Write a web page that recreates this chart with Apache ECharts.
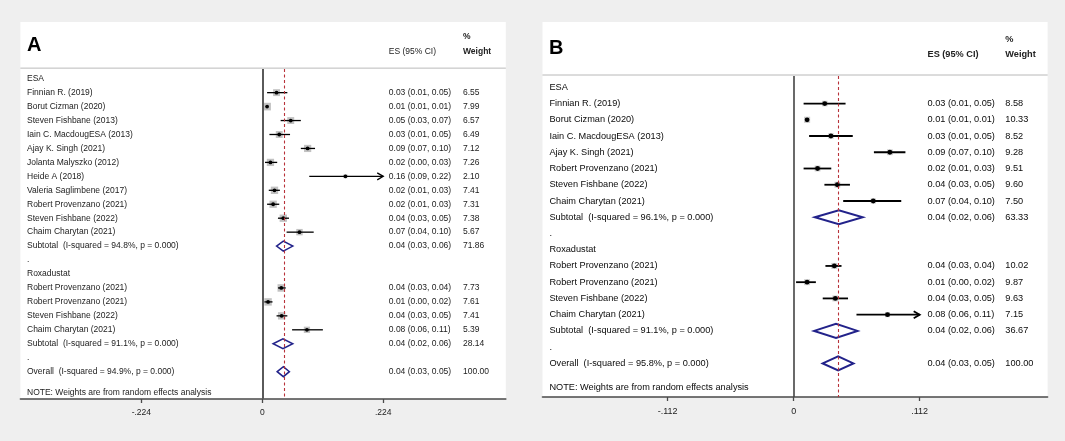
<!DOCTYPE html>
<html><head><meta charset="utf-8">
<script src="https://cdn.jsdelivr.net/npm/echarts@6/dist/echarts.min.js"></script>
<style>html,body{margin:0;padding:0;background:#efefef;}#c{width:1065px;height:441px;}</style>
</head><body><div id="c"></div>
<script>
// ---------------- Panel A ----------------
const labelsA = ['ESA','Finnian R. (2019)','Borut Cizman (2020)','Steven Fishbane (2013)','Iain C. MacdougESA (2013)','Ajay K. Singh (2021)','Jolanta Malyszko (2012)','Heide A (2018)','Valeria Saglimbene (2017)','Robert Provenzano (2021)','Steven Fishbane (2022)','Chaim Charytan (2021)','Subtotal  (I-squared = 94.8%, p = 0.000)','.','Roxadustat','Robert Provenzano (2021)','Robert Provenzano (2021)','Steven Fishbane (2022)','Chaim Charytan (2021)','Subtotal  (I-squared = 91.1%, p = 0.000)','.','Overall  (I-squared = 94.9%, p = 0.000)'];
const rowTypeA = ['head','study','study','study','study','study','study','study','study','study','study','study','sub','blank','head','study','study','study','study','sub','blank','sub'];
const esA = [null,0.0264,0.0089,0.0527,0.0314,0.0840,0.0151,0.154,0.0226,0.0201,0.0389,0.0689,0.0389,null,null,0.0352,0.0107,0.0358,0.0827,0.0383,null,0.039];
const loA = [null,0.0089,0.0085,0.034,0.0132,0.0714,0.005,0.087,0.012,0.0089,0.029,0.045,0.0264,null,null,0.029,0.0039,0.0264,0.0552,0.0201,null,0.0276];
const hiA = [null,0.0464,0.0095,0.0714,0.0514,0.0977,0.0276,0.2245,0.0326,0.0314,0.0495,0.0952,0.0565,null,null,0.0434,0.0189,0.0464,0.1122,0.0565,null,0.0502];
const weightA = [null,6.55,7.99,6.57,6.49,7.12,7.26,2.10,7.41,7.31,7.38,5.67,71.86,null,null,7.73,7.61,7.41,5.39,28.14,null,100.00];
const esTextA = ['','0.03 (0.01, 0.05)','0.01 (0.01, 0.01)','0.05 (0.03, 0.07)','0.03 (0.01, 0.05)','0.09 (0.07, 0.10)','0.02 (0.00, 0.03)','0.16 (0.09, 0.22)','0.02 (0.01, 0.03)','0.02 (0.01, 0.03)','0.04 (0.03, 0.05)','0.07 (0.04, 0.10)','0.04 (0.03, 0.06)','','','0.04 (0.03, 0.04)','0.01 (0.00, 0.02)','0.04 (0.03, 0.05)','0.08 (0.06, 0.11)','0.04 (0.02, 0.06)','','0.04 (0.03, 0.05)'];
const ticksA = [-0.224, 0, 0.224];
const tickLabelsA = ['-.224', '0', '.224'];

// ---------------- Panel B ----------------
const labelsB = ['ESA','Finnian R. (2019)','Borut Cizman (2020)','Iain C. MacdougESA (2013)','Ajay K. Singh (2021)','Robert Provenzano (2021)','Steven Fishbane (2022)','Chaim Charytan (2021)','Subtotal  (I-squared = 96.1%, p = 0.000)','.','Roxadustat','Robert Provenzano (2021)','Robert Provenzano (2021)','Steven Fishbane (2022)','Chaim Charytan (2021)','Subtotal  (I-squared = 91.1%, p = 0.000)','.','Overall  (I-squared = 95.8%, p = 0.000)'];
const rowTypeB = ['head','study','study','study','study','study','study','study','sub','blank','head','study','study','study','study','sub','blank','sub'];
const esB = [null,0.0276,0.0119,0.0331,0.0855,0.0212,0.0388,0.0707,0.0401,null,null,0.0361,0.0119,0.037,0.0834,0.0376,null,0.0395];
const loB = [null,0.0088,0.0115,0.0137,0.0713,0.0088,0.0273,0.044,0.0188,null,null,0.0282,0.0021,0.0258,0.0558,0.0182,null,0.0258];
const hiB = [null,0.0461,0.0123,0.0525,0.0993,0.0334,0.050,0.0956,0.0613,null,null,0.0425,0.0197,0.0483,0.1135,0.0567,null,0.0531];
const weightB = [null,8.58,10.33,8.52,9.28,9.51,9.60,7.50,63.33,null,null,10.02,9.87,9.63,7.15,36.67,null,100.00];
const esTextB = ['','0.03 (0.01, 0.05)','0.01 (0.01, 0.01)','0.03 (0.01, 0.05)','0.09 (0.07, 0.10)','0.02 (0.01, 0.03)','0.04 (0.03, 0.05)','0.07 (0.04, 0.10)','0.04 (0.02, 0.06)','','','0.04 (0.03, 0.04)','0.01 (0.00, 0.02)','0.04 (0.03, 0.05)','0.08 (0.06, 0.11)','0.04 (0.02, 0.06)','','0.04 (0.03, 0.05)'];
const ticksB = [-0.112, 0, 0.112];
const tickLabelsB = ['-.112', '0', '.112'];

const noteText = 'NOTE: Weights are from random effects analysis';
const FONT = '"Liberation Sans", Arial, sans-serif';

const panels = [
  { labels: labelsA, types: rowTypeA, es: esA, lo: loA, hi: hiA, w: weightA, esText: esTextA, ticks: ticksA, tickLabels: tickLabelsA,
    grid: { left: 20.4, right: 559.2, top: 69, bottom: 42 }, xmin: -0.448, xmax: 0.451, ymin: -0.695, ymax: 22.96,
    fs: 8.5, color: '#222', labelOff: 6.6, esOff: 368.4, wOff: 442.6, tickMargin: 9.5,
    sq: 2.7, sqColor: '#c2c2c2', dotR: 1.9, ciW: 1.3, diaH: 10, diaW: 1.5, zeroW: 2, zeroC: '#5a5a5a', axisFs: 8.5 },
  { labels: labelsB, types: rowTypeB, es: esB, lo: loB, hi: hiB, w: weightB, esText: esTextB, ticks: ticksB, tickLabels: tickLabelsB,
    grid: { left: 542.5, right: 17.4, top: 76, bottom: 44 }, xmin: -0.2233, xmax: 0.2257, ymin: -0.696, ymax: 19.07,
    fs: 9.2, color: '#0a0a0a', labelOff: 6.9, esOff: 385, wOff: 462.8, tickMargin: 10.5,
    sq: 1.9, sqColor: '#cccccc', dotR: 2.4, ciW: 1.8, diaH: 14, diaW: 2, zeroW: 1.6, zeroC: '#444', axisFs: 9 }
];

const grids = [], xAxes = [], yAxes = [], series = [];
panels.forEach((p, k) => {
  const n = p.labels.length;
  const overall = p.es[n - 1];
  const clip = p.ticks[p.ticks.length - 1];
  grids.push(Object.assign({ show: true, backgroundColor: '#ffffff', borderWidth: 0, containLabel: false }, p.grid));
  xAxes.push({
    gridIndex: k, type: 'value', min: p.xmin, max: p.xmax,
    axisLine: { show: true, onZero: false, lineStyle: { color: '#4a4a4a', width: 1.6 } },
    axisTick: { show: true, customValues: p.ticks, length: 4, lineStyle: { color: '#4a4a4a', width: 1.3 } },
    axisLabel: { customValues: p.ticks, margin: p.tickMargin, fontSize: p.axisFs, fontFamily: FONT, color: '#222',
      formatter: v => { const i = p.ticks.findIndex(t => Math.abs(t - v) < 1e-6); return i >= 0 ? p.tickLabels[i] : ''; } },
    splitLine: { show: false }
  });
  yAxes.push({ gridIndex: k, type: 'value', inverse: true, min: p.ymin, max: p.ymax, show: false, splitLine: { show: false } });

  // marks
  const markData = p.labels.map((_, i) => [p.es[i] == null ? 0 : p.es[i], i, p.lo[i] == null ? 0 : p.lo[i], p.hi[i] == null ? 0 : p.hi[i], p.w[i] == null ? 0 : p.w[i]]);
  series.push({
    type: 'custom', xAxisIndex: k, yAxisIndex: k, clip: false, silent: true, animation: false,
    encode: { x: 0, y: 1 },
    data: markData,
    renderItem: (params, api) => {
      const i = params.dataIndex;
      const t = p.types[i];
      if (t !== 'study' && t !== 'sub') return null;
      const es = api.value(0), lo = api.value(2), hi = api.value(3), w = api.value(4);
      const c = api.coord([es, i]);
      const y = c[1];
      const xl = api.coord([lo, i])[0];
      const arrow = hi > clip;
      const xh = api.coord([Math.min(hi, clip), i])[0];
      if (t === 'sub') {
        const h = p.diaH / 2;
        return { type: 'polygon', shape: { points: [[xl, y], [c[0], y - h], [xh, y], [c[0], y + h]] },
          style: { fill: 'none', stroke: '#22228a', lineWidth: p.diaW } };
      }
      const s = p.sq * Math.sqrt(w);
      const ch = [
        { type: 'rect', shape: { x: c[0] - s / 2, y: y - s / 2, width: s, height: s }, style: { fill: p.sqColor } },
        { type: 'line', shape: { x1: xl, y1: y, x2: xh, y2: y }, style: { stroke: '#000', lineWidth: p.ciW } },
        { type: 'circle', shape: { cx: c[0], cy: y, r: p.dotR }, style: { fill: '#000' } }
      ];
      if (arrow) {
        ch.push({ type: 'polyline', shape: { points: [[xh - 6, y - 3.5], [xh, y], [xh - 6, y + 3.5]] }, style: { stroke: '#000', fill: 'none', lineWidth: p.ciW } });
      }
      return { type: 'group', children: ch };
    },
    markLine: {
      silent: true, symbol: ['none', 'none'], label: { show: false }, animation: false,
      data: [
        { xAxis: 0, lineStyle: { color: p.zeroC, width: p.zeroW, type: 'solid' } },
        { xAxis: overall, lineStyle: { color: '#b8323a', width: 1.1, type: [3, 2.5] } }
      ]
    },
    z: 3
  });

  // texts
  const textData = p.labels.map((_, i) => [0, i]).concat([[0, n + 0.5]]);
  series.push({
    type: 'custom', xAxisIndex: k, yAxisIndex: k, clip: false, silent: true, animation: false,
    encode: { x: 0, y: 1 },
    data: textData,
    renderItem: (params, api) => {
      const i = params.dataIndex;
      const y = api.coord([0, api.value(1)])[1];
      const x0 = params.coordSys.x;
      const st = (txt) => ({ text: txt, fill: p.color, fontSize: p.fs, fontFamily: FONT, verticalAlign: 'middle', align: 'left' });
      if (i >= n) return { type: 'text', x: x0 + p.labelOff, y: y, style: st(noteText) };
      const ch = [{ type: 'text', x: x0 + p.labelOff, y: y, style: st(p.labels[i]) }];
      if (p.esText[i]) {
        ch.push({ type: 'text', x: x0 + p.esOff, y: y, style: st(p.esText[i]) });
        ch.push({ type: 'text', x: x0 + p.wOff, y: y, style: st(p.w[i].toFixed(2)) });
      }
      return { type: 'group', children: ch };
    },
    z: 4
  });
});

function header(x, w, yTop, hBottom, letter, fs, esX, wX, yMain, yPct, esBold) {
  return [
    { type: 'rect', shape: { x: x, y: yTop, width: w, height: hBottom - yTop }, style: { fill: '#ffffff' }, z: 0 },
    { type: 'line', shape: { x1: x, y1: hBottom + 0.8, x2: x + w, y2: hBottom + 0.8 }, style: { stroke: '#d4d4d4', lineWidth: 1.5 }, z: 0 },
    { type: 'text', x: x + 6.6, y: yMain - 6, style: { text: letter, fontSize: 20, fontWeight: 'bold', fontFamily: FONT, fill: '#000', verticalAlign: 'middle' }, z: 1 },
    { type: 'text', x: esX, y: yMain, style: { text: 'ES (95% CI)', fontSize: fs, fontWeight: esBold ? 'bold' : 'normal', fontFamily: FONT, fill: '#222', verticalAlign: 'middle' }, z: 1 },
    { type: 'text', x: wX, y: yPct, style: { text: '%', fontSize: fs, fontWeight: 'bold', fontFamily: FONT, fill: '#222', verticalAlign: 'middle' }, z: 1 },
    { type: 'text', x: wX, y: yMain, style: { text: 'Weight', fontSize: fs, fontWeight: 'bold', fontFamily: FONT, fill: '#222', verticalAlign: 'middle' }, z: 1 }
  ];
}

const chart = echarts.init(document.getElementById('c'), null, { renderer: 'canvas' });
chart.setOption({
  backgroundColor: '#efefef',
  animation: false,
  grid: grids, xAxis: xAxes, yAxis: yAxes, series: series,
  graphic: [].concat(
    header(20.4, 485.4, 22, 67.5, 'A', 8.5, 388.8, 463, 51.4, 36.5, false),
    header(542.5, 505.1, 22, 74.2, 'B', 9.2, 927.5, 1005.3, 54, 39, true)
  )
});
</script></body></html>
